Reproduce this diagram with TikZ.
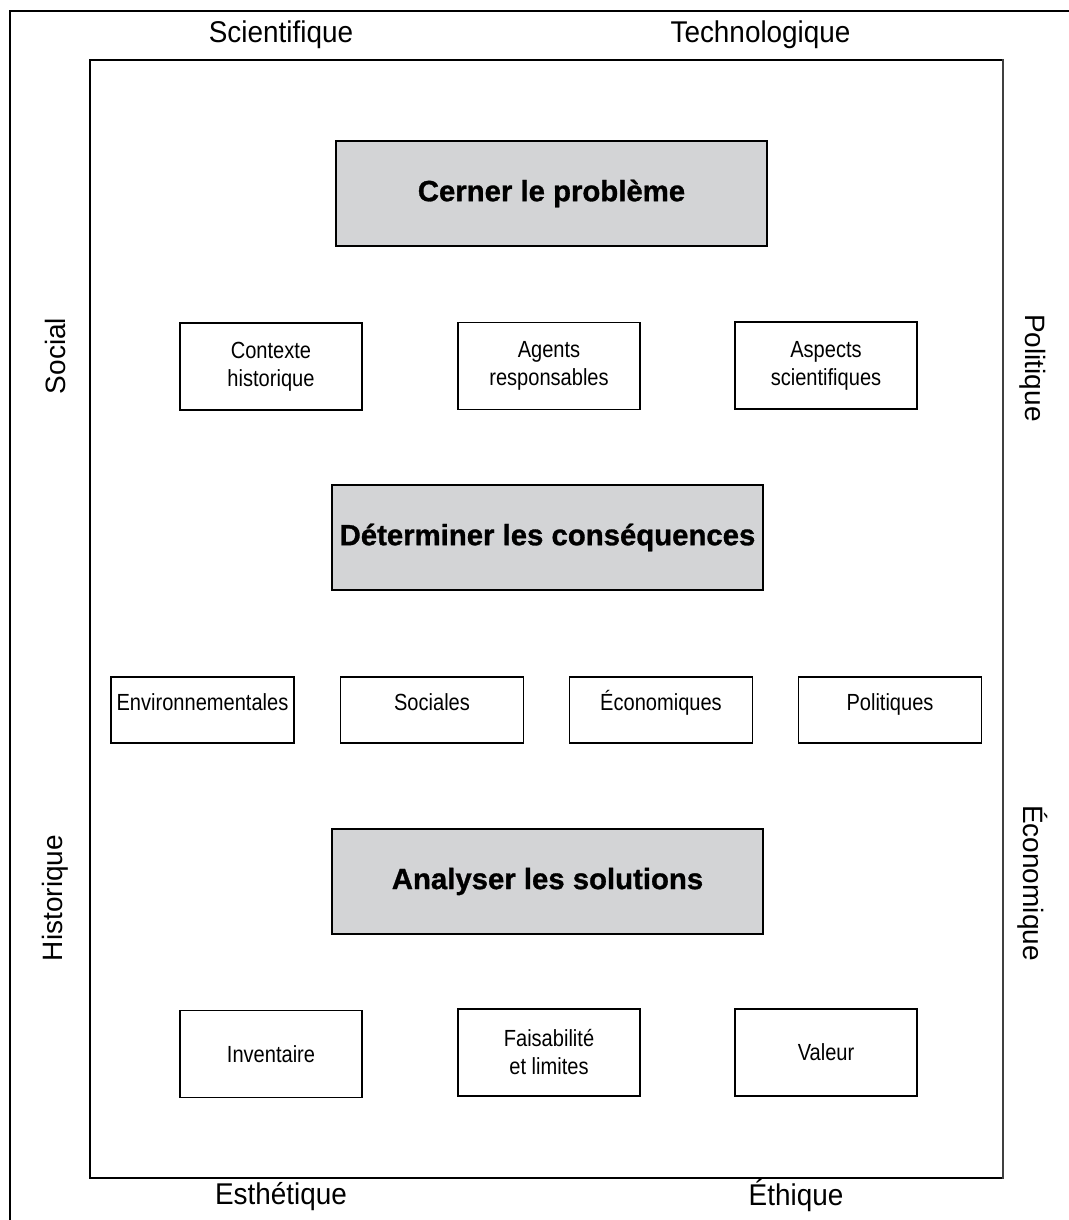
\documentclass[tikz,border=0pt]{standalone}
\usepackage{fontspec}
\setmainfont{Liberation Sans}
\newfontfamily\heavyfont[FakeBold=1]{Liberation Sans Bold}
\newfontfamily\narrowfont[FakeStretch=0.86]{Liberation Sans}
\newfontfamily\sidefont[FakeStretch=0.93]{Liberation Sans}
\definecolor{boxgray}{RGB}{211,212,214}
\begin{document}
\begin{tikzpicture}[x=0.75pt,y=-0.75pt,
  bigbox/.style={draw=black, line width=1pt, fill=boxgray, minimum width=323.25pt, minimum height=78.75pt, inner sep=0pt, font=\heavyfont\fontsize{22}{26}\selectfont},
  smallbox/.style={draw=black, line width=1pt, minimum width=136.5pt, minimum height=65.25pt, inner sep=0pt, align=center, font=\narrowfont\fontsize{17.5}{21}\selectfont},
  midbox/.style={smallbox, minimum width=137.25pt, minimum height=49.5pt, text height=7.5pt, text depth=7.5pt},
  toplabel/.style={font=\sidefont\fontsize{22.5}{27}\selectfont, inner sep=0pt},
  sidelabel/.style={font=\fontsize{21}{25}\selectfont, inner sep=0pt},
  frameline/.style={line width=1.1pt, line cap=rect},
]
\useasboundingbox (0,0) rectangle (1068,1220);
% outer frame (top and left)
\draw[frameline] (10,1220) -- (10,11) -- (1068,11);
% inner frame
\draw[frameline] (1003,60) -- (90,60) -- (90,1178) -- (1003,1178);
\draw[line width=2pt, black!75] (1003,59) -- (1003,1179);

% side labels
\node[toplabel] (sci) at (281,34.5) {Scientifique};
\node[toplabel] (tech) at (760.5,34.5) {Technologique};
\node[toplabel] (esth) at (281,1197) {Esthétique};
\node[toplabel] (ethi) at (796,1196) {Éthique};
\node[sidelabel, rotate=90] (soc) at (55,356) {Social};
\node[sidelabel, rotate=90] (hist) at (55,898) {Historique};
\node[sidelabel, rotate=-90] (pol) at (1033,368) {Politique};
\node[sidelabel, rotate=-90] (eco) at (1033,883) {Économique};

% main steps
\node[bigbox] (cerner) at (551.5,193.5) {Cerner le problème};
\node[bigbox] (determ) at (547.5,537.5) {Déterminer les conséquences};
\node[bigbox] (analys) at (547.5,881.5) {Analyser les solutions};

% row 1
\node[smallbox] (ctx) at (271,366.5) {Contexte\\historique};
\node[smallbox] (agents) at (549,366) {Agents\\responsables};
\node[smallbox] (aspects) at (826,365.5) {Aspects\\scientifiques};

% row 2
\node[midbox] (envi) at (202.5,710) {Environnementales};
\node[midbox] (soci) at (432,710) {Sociales};
\node[midbox] (econ) at (661,710) {Économiques};
\node[midbox] (poli) at (890,710) {Politiques};

% row 3
\node[smallbox] (inv) at (271,1054) {Inventaire};
\node[smallbox] (fais) at (549,1052.5) {Faisabilité\\et limites};
\node[smallbox] (val) at (826,1052.5) {Valeur};
\end{tikzpicture}
\end{document}
